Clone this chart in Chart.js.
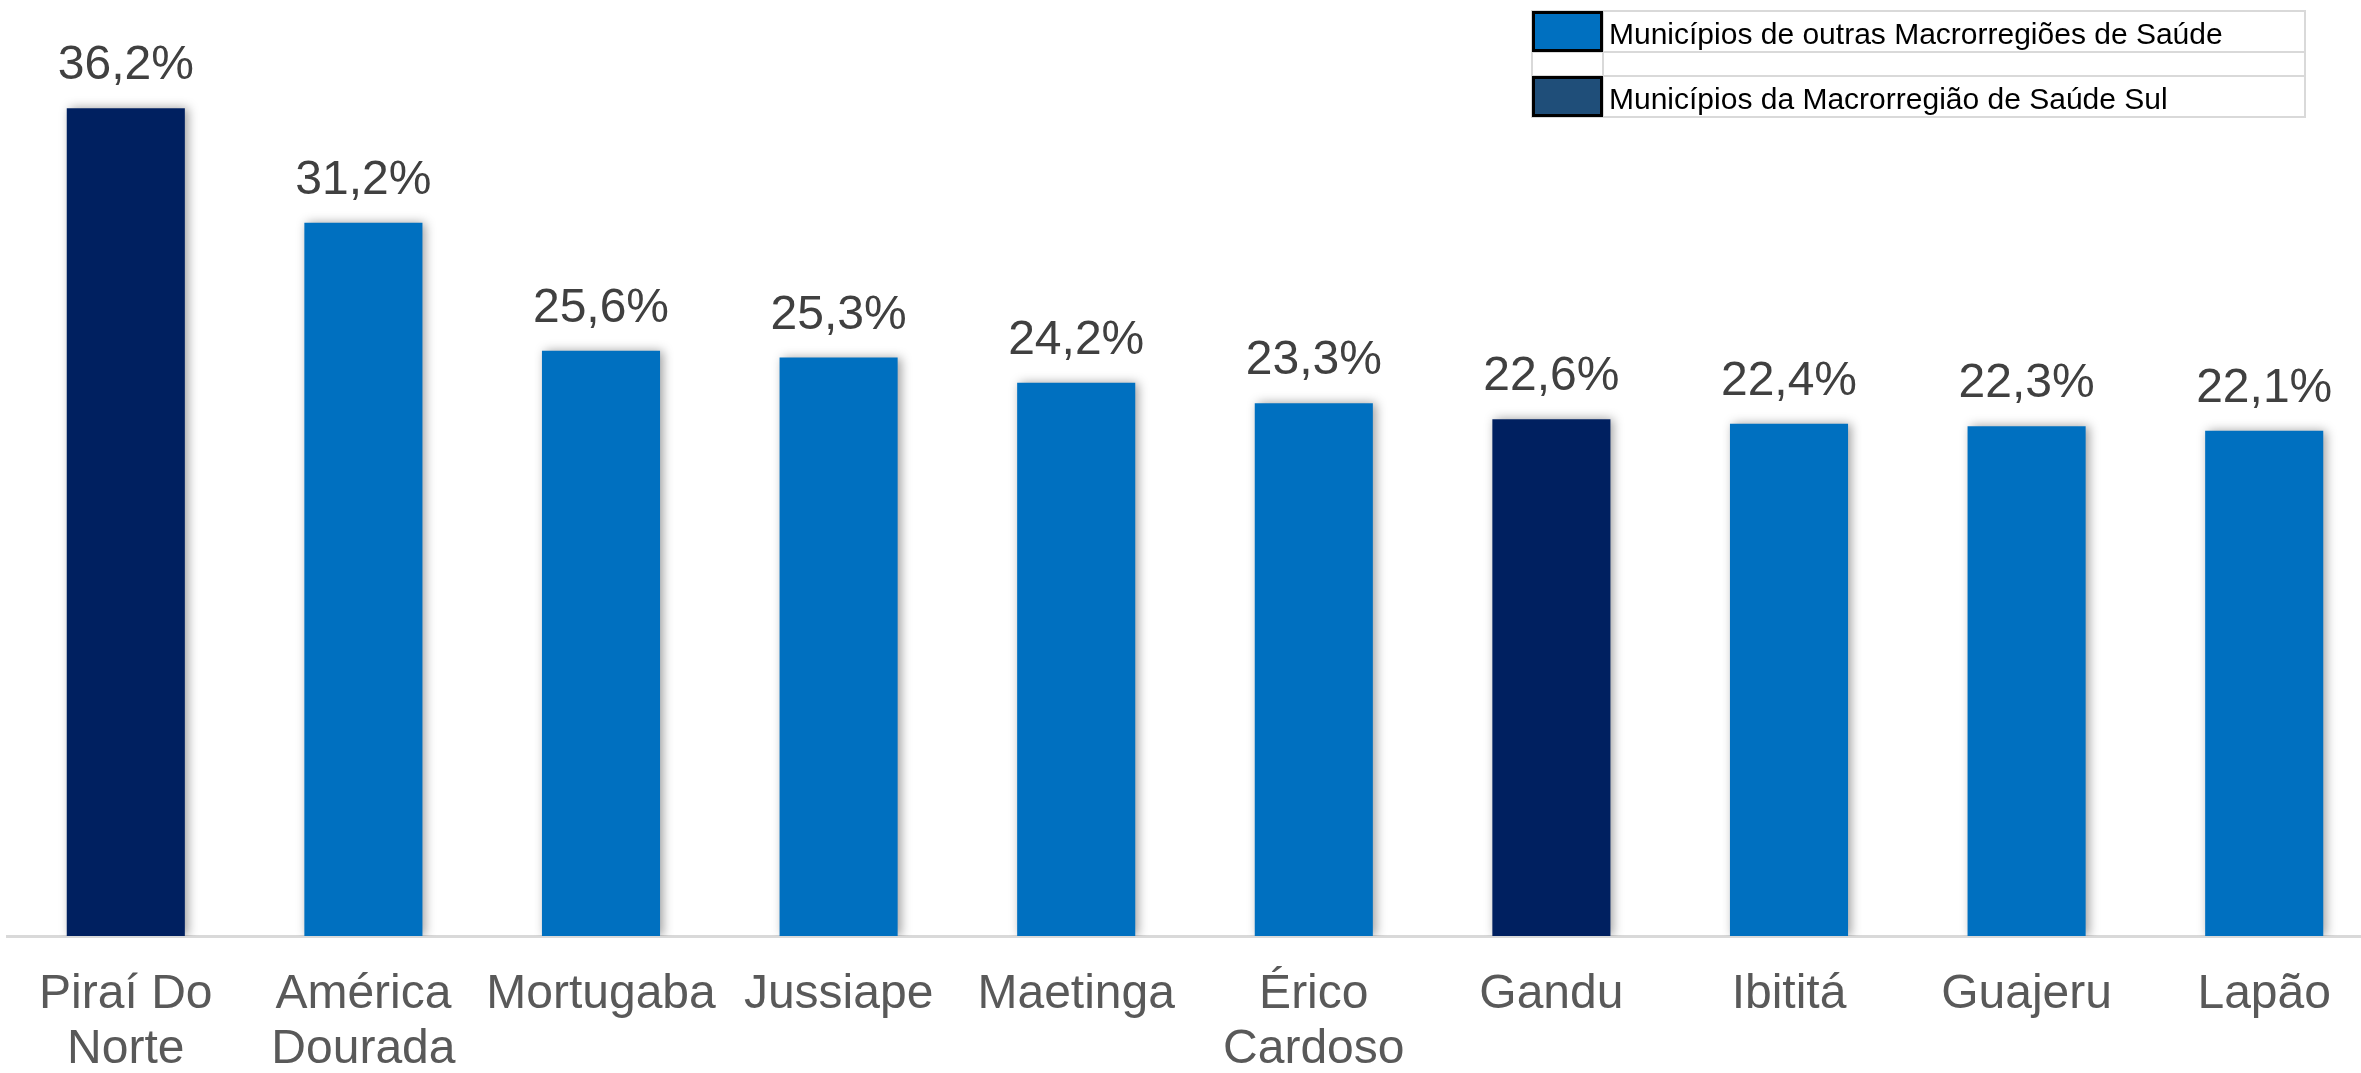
<!DOCTYPE html>
<html>
<head>
<meta charset="utf-8">
<script src="https://cdn.jsdelivr.net/npm/chart.js@4.4.1/dist/chart.umd.min.js"></script>
<style>
  html, body { margin: 0; padding: 0; background: #ffffff; overflow: hidden; }
  #wrap { width: 2390px; height: 1073px; position: relative; }
</style>
</head>
<body>
<div id="wrap"><canvas id="c" width="2390" height="1073"></canvas></div>
<script>
// ---- Data ----
const categories = [
  ['Piraí Do', 'Norte'],
  ['América', 'Dourada'],
  'Mortugaba',
  'Jussiape',
  'Maetinga',
  ['Érico', 'Cardoso'],
  'Gandu',
  'Ibititá',
  'Guajeru',
  'Lapão'
];
const outrasValues = [null, 31.2, 25.6, 25.3, 24.2, 23.3, null, 22.4, 22.3, 22.1];
const sulValues    = [36.2, null, null, null, null, null, 22.6, null, null, null];
const seriesLabels = ['Municípios de outras Macrorregiões de Saúde', 'Municípios da Macrorregião de Saúde Sul'];
const barColors    = ['#0070C0', '#002060'];
const legendColors = ['#0070C0', '#1F4E79'];

// ---- Plugins ----
const shadowPlugin = {
  id: 'barShadow',
  beforeDatasetsDraw(chart) {
    const ctx = chart.ctx;
    ctx.save();
    ctx.shadowColor = 'rgba(0,0,0,0.38)';
    ctx.shadowBlur = 10;
    ctx.shadowOffsetX = 3;
    ctx.shadowOffsetY = 0;
  },
  afterDatasetsDraw(chart) {
    chart.ctx.restore();
  }
};

const valueLabelPlugin = {
  id: 'valueLabels',
  afterDatasetsDraw(chart) {
    const ctx = chart.ctx;
    ctx.save();
    ctx.font = '48px "Liberation Sans", Arial, sans-serif';
    ctx.fillStyle = '#404040';
    ctx.textAlign = 'center';
    ctx.textBaseline = 'alphabetic';
    chart.data.datasets.forEach((ds, di) => {
      const meta = chart.getDatasetMeta(di);
      meta.data.forEach((el, i) => {
        const v = ds.data[i];
        if (v === null || v === undefined) return;
        const txt = v.toFixed(1).replace('.', ',') + '%';
        ctx.fillText(txt, el.x, el.y - 29);
      });
    });
    ctx.restore();
  }
};

const tableLegendPlugin = {
  id: 'tableLegend',
  afterDraw(chart) {
    const ctx = chart.ctx;
    const x0 = 1532, x1 = 1603, x2 = 2305;
    const rows = [[11, 52], [76, 117]];
    ctx.save();
    // grid lines
    ctx.strokeStyle = '#D9D9D9';
    ctx.lineWidth = 2;
    ctx.strokeRect(x0, 11, x2 - x0, 117 - 11);
    [52, 76].forEach(y => {
      ctx.beginPath(); ctx.moveTo(x0, y); ctx.lineTo(x2, y); ctx.stroke();
    });
    ctx.beginPath(); ctx.moveTo(x1, 11); ctx.lineTo(x1, 117); ctx.stroke();
    // swatches + text
    chart.data.datasets.forEach((ds, i) => {
      const [ya, yb] = rows[i];
      ctx.fillStyle = legendColors[i];
      ctx.fillRect(x0, ya, x1 - x0, yb - ya);
      ctx.strokeStyle = '#000000';
      ctx.lineWidth = 3;
      ctx.strokeRect(x0 + 1.5, ya + 1.5, x1 - x0 - 3, yb - ya - 3);
      ctx.fillStyle = '#000000';
      ctx.font = '30px "Liberation Sans", Arial, sans-serif';
      ctx.textAlign = 'left';
      ctx.textBaseline = 'alphabetic';
      ctx.fillText(ds.label, 1609, yb - 8);
    });
    ctx.restore();
  }
};

// ---- Chart ----
new Chart(document.getElementById('c'), {
  type: 'bar',
  data: {
    labels: categories,
    datasets: [
      { label: seriesLabels[0], data: outrasValues, backgroundColor: barColors[0] },
      { label: seriesLabels[1], data: sulValues, backgroundColor: barColors[1] }
    ]
  },
  options: {
    responsive: false,
    devicePixelRatio: 1,
    animation: false,
    layout: { padding: { left: 7, right: 7, top: 0, bottom: 0 } },
    datasets: { bar: { grouped: false, categoryPercentage: 1.0, barPercentage: 0.497, borderWidth: 0 } },
    plugins: {
      legend: { display: false },
      tooltip: { enabled: false },
      title: { display: false }
    },
    scales: {
      x: {
        grid: { display: false, drawTicks: false },
        border: { display: true, color: '#D9D9D9', width: 3 },
        ticks: {
          autoSkip: false,
          maxRotation: 0,
          minRotation: 0,
          padding: 31,
          color: '#595959',
          font: { family: '"Liberation Sans", Arial, sans-serif', size: 48, lineHeight: 1.15 }
        },
        afterFit(scale) { scale.height = 137; }
      },
      y: {
        display: false,
        min: 0,
        max: 40.94
      }
    }
  },
  plugins: [shadowPlugin, valueLabelPlugin, tableLegendPlugin]
});
</script>
</body>
</html>
